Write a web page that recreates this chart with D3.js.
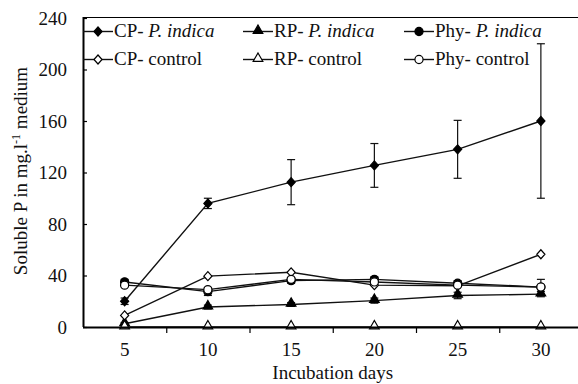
<!DOCTYPE html>
<html>
<head>
<meta charset="utf-8">
<script src="https://cdn.jsdelivr.net/npm/d3@7"></script>
<style>
  body { margin: 0; background: #fff; }
</style>
</head>
<body>
<div class="chart"></div>
<script>
// incubation days
const days = [5, 10, 15, 20, 25, 30]
const yTicks = [0, 40, 80, 120, 160, 200, 240]

// soluble P (mg/l) per series
const cpIndica = [20, 96, 112.5, 125.5, 138, 160]
const cpIndicaErr = [2.5, 4, 17.5, 17, 22.5, 60]
const rpIndica = [2.5, 15.5, 17.5, 20.5, 24.5, 25.5]
const rpIndicaErr = [1, 1.5, 1.5, 2, 2.5, 2]
const phyIndica = [35, 27.5, 36, 37, 34, 31]
const phyIndicaErr = [2, 3, 2, 2, 2, 6]
const cpControl = [9, 39.5, 42.5, 32.5, 32, 56.5]
const rpControl = [0, 0, 0, 0, 0, 0]
const phyControl = [32.5, 29, 37, 35, 32.5, 31]

const series = [
    {name: "CP- ", italic: "P. indica", vals: cpIndica, err: cpIndicaErr, shape: "diamond", fill: true},
    {name: "RP- ", italic: "P. indica", vals: rpIndica, err: rpIndicaErr, shape: "triangle", fill: true},
    {name: "Phy- ", italic: "P. indica", vals: phyIndica, err: phyIndicaErr, shape: "circle", fill: true},
    {name: "CP- control", vals: cpControl, shape: "diamond", fill: false},
    {name: "RP- control", vals: rpControl, shape: "triangle", fill: false},
    {name: "Phy- control", vals: phyControl, shape: "circle", fill: false}
]

const font = "Liberation Serif, Times New Roman, serif"
const width = 578
const height = 384
const margin = {left: 83, top: 18, bottom: 57}

const svg = d3.select(".chart").append("svg")
    .attr("width", width)
    .attr("height", height)
    .attr("font-family", font)

const x = d3.scaleLinear().domain([2.5, 32.5]).range([margin.left, 582.5])
const y = d3.scaleLinear().domain([0, 240]).range([height - margin.bottom, margin.top])

// squarer diamond than d3's default
const squareDiamond = {
    draw(ctx, size) {
        const h = Math.sqrt(size) * 0.75
        ctx.moveTo(0, -h)
        ctx.lineTo(h * 0.9, 0)
        ctx.lineTo(0, h)
        ctx.lineTo(-h * 0.9, 0)
        ctx.closePath()
    }
}
const symSize = {diamond: 36, triangle: 40, circle: 52}
const symType = {diamond: squareDiamond, triangle: d3.symbolTriangle, circle: d3.symbolCircle}

// top border
svg.append("line")
    .attr("x1", margin.left).attr("x2", width)
    .attr("y1", 17.5).attr("y2", 17.5)
    .attr("stroke", "#000").attr("stroke-width", 1.2)

// lines
const line = d3.line()
    .x((d, i) => x(days[i]))
    .y(d => y(d))

const g = svg.append("g")

series.forEach(s => {
    g.append("path")
        .datum(s.vals)
        .attr("d", line)
        .attr("fill", "none")
        .attr("stroke", "#111")
        .attr("stroke-width", 1.4)

    if (s.err) {
        const eb = g.append("g").selectAll("g")
            .data(s.vals.map((v, i) => ({day: days[i], v: v, e: s.err[i]})))
            .join("g")
        eb.append("line")
            .attr("x1", d => x(d.day)).attr("x2", d => x(d.day))
            .attr("y1", d => y(d.v - d.e)).attr("y2", d => y(d.v + d.e))
            .attr("stroke", "#111").attr("stroke-width", 1.2)
        ;[-1, 1].forEach(sg => {
            eb.append("line")
                .attr("x1", d => x(d.day) - 4).attr("x2", d => x(d.day) + 4)
                .attr("y1", d => y(d.v + sg * d.e)).attr("y2", d => y(d.v + sg * d.e))
                .attr("stroke", "#111").attr("stroke-width", 1.2)
        })
    }
})

series.forEach(s => {
    g.append("g").selectAll("path")
        .data(s.vals)
        .join("path")
        .attr("transform", (d, i) => `translate(${x(days[i])},${y(d) - (s.shape === "triangle" ? 1 : 0)})`)
        .attr("d", d3.symbol().type(symType[s.shape]).size(symSize[s.shape]))
        .attr("fill", s.fill ? "#000" : "#fff")
        .attr("stroke", "#000")
        .attr("stroke-width", 1.2)
})

// axes
const xAxis = d3.axisBottom(x)
    .tickValues([7.5, 12.5, 17.5, 22.5, 27.5, 32.5])
    .tickSize(6)
    .tickFormat("")
const xg = svg.append("g")
    .attr("transform", `translate(0,${y(0)})`)
    .call(xAxis)
xg.select(".domain").attr("stroke-width", 2).attr("d", `M${margin.left},0.5H${width}`)
xg.selectAll(".tick line").attr("stroke-width", 1.2)

svg.append("g").selectAll("text")
    .data(days)
    .join("text")
    .attr("x", d => x(d))
    .attr("y", y(0) + 29)
    .attr("text-anchor", "middle")
    .attr("font-family", font)
    .attr("font-size", 19)
    .attr("fill", "#111")
    .text(d => d)

const yAxis = d3.axisLeft(y)
    .tickValues(yTicks)
    .tickSize(-4)
    .tickPadding(16)
const yg = svg.append("g")
    .attr("transform", `translate(${margin.left},0)`)
    .call(yAxis)
yg.select(".domain").attr("stroke-width", 2).attr("d", `M0.5,${y(0)}V${margin.top - 1}`)
yg.selectAll(".tick line").attr("stroke-width", 1.2)
yg.selectAll(".tick text")
    .attr("font-family", font)
    .attr("font-size", 19)
    .attr("fill", "#111")

// axis titles
svg.append("text")
    .attr("x", x(17.5))
    .attr("y", 379)
    .attr("text-anchor", "middle")
    .attr("font-family", font)
    .attr("font-size", 19)
    .attr("fill", "#111")
    .text("Incubation days")

const yt = svg.append("text")
    .attr("transform", `translate(27,171) rotate(-90)`)
    .attr("text-anchor", "middle")
    .attr("font-family", font)
    .attr("font-size", 19)
    .attr("fill", "#111")
yt.append("tspan").text("Soluble P in mg.l")
yt.append("tspan").attr("font-size", 12).attr("dy", -7).text("-1")
yt.append("tspan").attr("dy", 7).text(" medium")

// legend
const legX = [83, 243, 404]
const legY = [31.5, 59.5]
series.forEach((s, i) => {
    const lx = legX[i % 3]
    const ly = legY[Math.floor(i / 3)]
    const lg = svg.append("g")
    lg.append("line")
        .attr("x1", lx).attr("x2", lx + 30)
        .attr("y1", ly).attr("y2", ly)
        .attr("stroke", "#111").attr("stroke-width", 1.4)
    lg.append("path")
        .attr("transform", `translate(${lx + 15},${ly - (s.shape === "triangle" ? 1 : 0)})`)
        .attr("d", d3.symbol().type(symType[s.shape]).size(symSize[s.shape]))
        .attr("fill", s.fill ? "#000" : "#fff")
        .attr("stroke", "#000")
        .attr("stroke-width", 1.2)
    const t = lg.append("text")
        .attr("x", lx + 31)
        .attr("y", ly + 5.5)
        .attr("font-family", font)
        .attr("font-size", 19)
        .attr("fill", "#111")
    t.append("tspan").text(s.name)
    if (s.italic) t.append("tspan").attr("font-style", "italic").text(s.italic)
})
</script>
</body>
</html>
